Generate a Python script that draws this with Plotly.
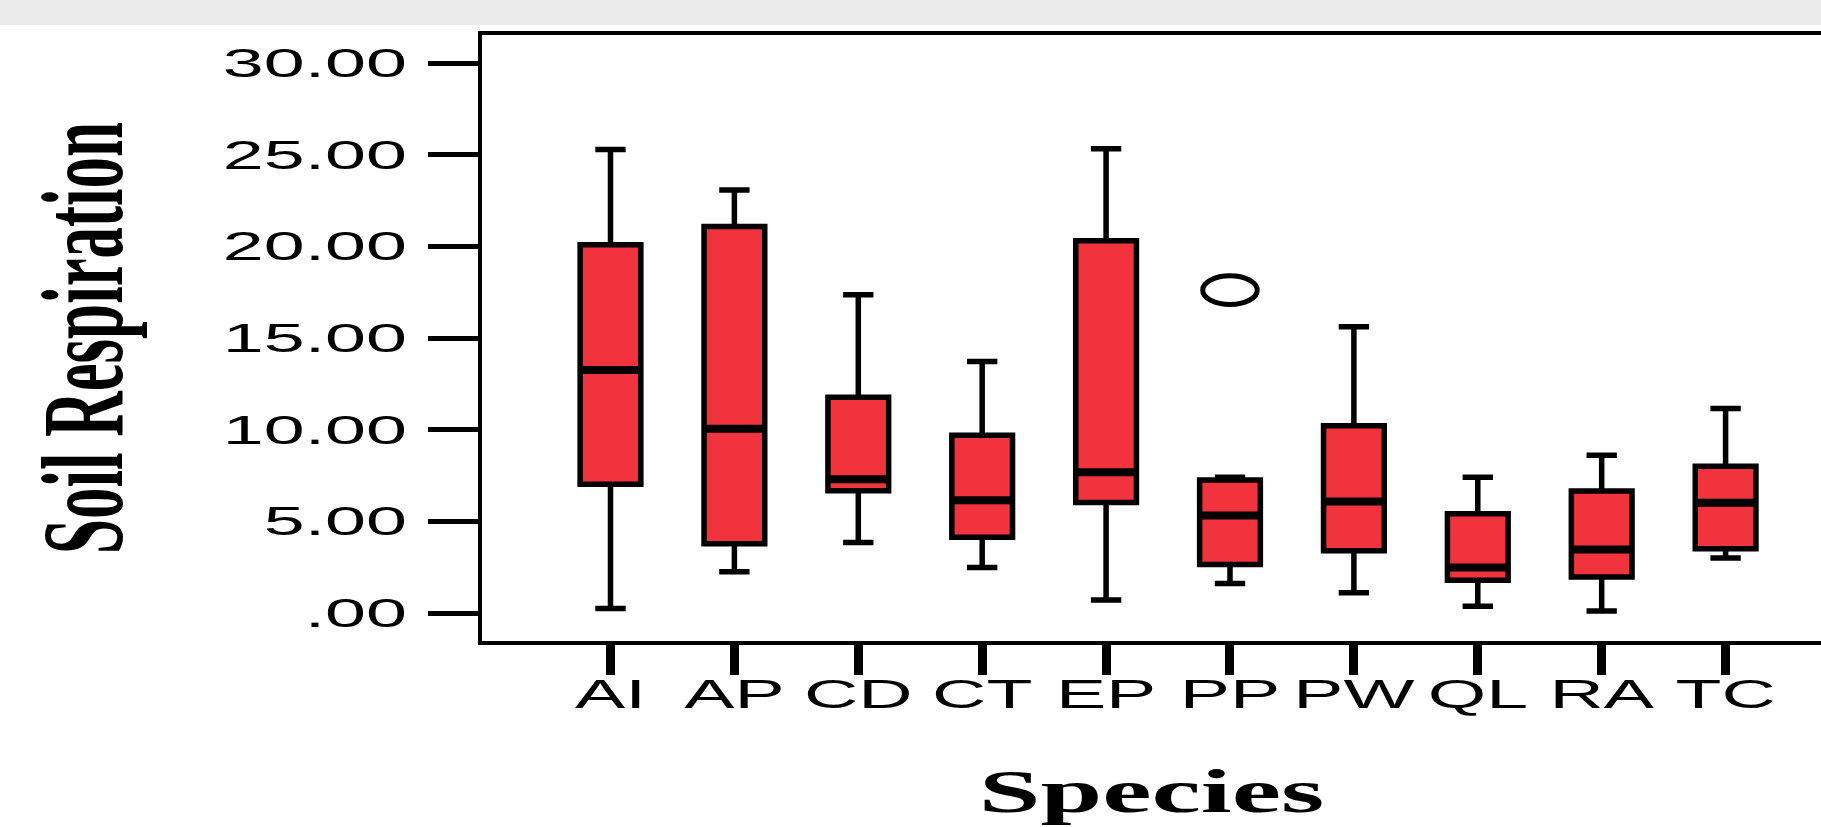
import plotly.graph_objects as go

# ---- data ----
species = ["AI", "AP", "CD", "CT", "EP", "PP", "PW", "QL", "RA", "TC"]
lower_whisker = [0.25, 2.25, 3.85, 2.48, 0.71, 1.61, 1.10, 0.37, 0.11, 3.00]
q1_values = [7.02, 3.78, 6.67, 4.13, 6.03, 2.64, 3.39, 1.79, 1.97, 3.51]
median_values = [13.26, 10.05, 7.29, 6.15, 7.68, 5.32, 6.08, 2.48, 3.46, 6.01]
q3_values = [20.09, 21.08, 11.77, 9.70, 20.30, 7.25, 10.21, 5.41, 6.65, 8.00]
upper_whisker = [25.28, 23.07, 17.36, 13.72, 25.32, 7.41, 15.62, 7.41, 8.60, 11.15]
outlier_species = ["PP"]
outlier_values = [17.61]
ytick_values = [0, 5, 10, 15, 20, 25, 30]
ytick_labels = [".00", "5.00", "10.00", "15.00", "20.00", "25.00", "30.00"]

RED = "#F0333C"
SANS = "Liberation Sans, Arial, sans-serif"
SERIF = "Liberation Serif, Times New Roman, serif"
BOX_WIDTH = 0.49

fig = go.Figure()
fig.add_trace(go.Box(
    x=species, q1=q1_values, median=median_values, q3=q3_values,
    lowerfence=lower_whisker, upperfence=upper_whisker,
    width=BOX_WIDTH, whiskerwidth=0.5, fillcolor=RED,
    line=dict(color="black", width=5.5),
    boxpoints=False, showlegend=False, hoverinfo="skip",
))

# heavier median bars, as in the reference
for i, m in enumerate(median_values):
    fig.add_shape(type="line", xref="x", yref="y",
                  x0=i - BOX_WIDTH / 2, x1=i + BOX_WIDTH / 2, y0=m, y1=m,
                  line=dict(color="black", width=8))

# outlier drawn as an open ellipse at its data position
for sp, v in zip(outlier_species, outlier_values):
    i = species.index(sp)
    fig.add_shape(type="circle", xref="x", yref="y",
                  x0=i - 0.22, x1=i + 0.22, y0=v - 0.78, y1=v + 0.78,
                  line=dict(color="black", width=5), fillcolor="rgba(0,0,0,0)")

# light grey band at the very top of the page
fig.add_shape(type="rect", xref="paper", yref="paper", ysizemode="pixel", yanchor=1,
              x0=-0.5, x1=1.05, y0=10, y1=60, line=dict(width=0), fillcolor="#EBEBEB")

fig.update_layout(
    width=1821, height=827,
    margin=dict(l=482, r=0, t=35, b=186, autoexpand=False),
    paper_bgcolor="white", plot_bgcolor="white",
    showlegend=False,
    xaxis=dict(
        type="category", categoryorder="array", categoryarray=species,
        range=[-1.037, 9.770],
        showline=True, linecolor="black", linewidth=4, mirror=True,
        ticks="outside", ticklen=30, tickwidth=9, tickcolor="black",
        ticklabelstandoff=-15,
        tickfont=dict(family=SANS, size=40, color="black"),
        showgrid=False, zeroline=False,
        title=dict(text="Species", standoff=55,
                   font=dict(family=SERIF, size=62, color="black", weight="bold")),
    ),
    yaxis=dict(
        range=[-1.527, 31.527],
        tickmode="array", tickvals=ytick_values, ticktext=ytick_labels,
        showline=True, linecolor="black", linewidth=4, mirror=False,
        ticks="outside", ticklen=50, tickwidth=5, tickcolor="black",
        ticklabelstandoff=13,
        tickfont=dict(family=SANS, size=40, color="black"),
        showgrid=False, zeroline=False,
        title=dict(text="Soil Respiration", standoff=183,
                   font=dict(family=SERIF, size=63, color="black", weight="bold")),
    ),
)

post = """
document.body.style.margin = '0';
document.body.style.overflow = 'hidden';
var gd = document.getElementById('{plot_id}');
function stretch(sel, f) {
  gd.querySelectorAll(sel).forEach(function (t) {
    var L = t.getComputedTextLength();
    t.setAttribute('textLength', L * f);
    t.setAttribute('lengthAdjust', 'spacingAndGlyphs');
  });
}
stretch('g.xtick text', 1.88);
stretch('g.ytick text', 1.84);
stretch('text.xtitle', 1.79);
var yt = gd.querySelector('text.ytitle');
if (yt) {
  var bb = yt.getBBox();
  var cy = bb.y + bb.height / 2;
  var tr = yt.getAttribute('transform') || '';
  yt.setAttribute('transform', tr + ' translate(0,' + cy + ') scale(1,1.85) translate(0,' + (-cy) + ')');
}
"""

fig.write_html("out.html", post_script=post, config={"displayModeBar": False})
